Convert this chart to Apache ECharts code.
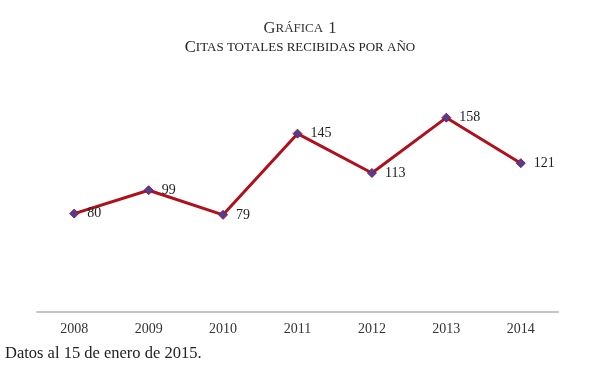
<!DOCTYPE html>
<html><head><meta charset="utf-8">
<script src="https://cdn.jsdelivr.net/npm/echarts@6/dist/echarts.min.js"></script>
<style>html,body{margin:0;padding:0;background:#fff}#c{width:600px;height:372px}</style>
</head><body><div id="c"></div>
<script>
const years = ['2008','2009','2010','2011','2012','2013','2014'];
const citas = [80, 99, 79, 145, 113, 158, 121];
const serif = '"Liberation Serif", "DejaVu Serif", serif';
const chart = echarts.init(document.getElementById('c'));
chart.setOption({
  animation: false,
  backgroundColor: '#fff',
  title: [{
    left: 'center', top: 15,
    text: '{b|G}{s|RÁFICA} {b|1}',
    textStyle: { fontWeight: 'normal', rich: {
      b: { fontFamily: serif, fontSize: 16.5, fontWeight: 'normal', color: '#333' },
      s: { fontFamily: serif, fontSize: 13, fontWeight: 'normal', color: '#333' }
    } }
  }, {
    left: 'center', top: 34,
    text: '{b|C}{s|ITAS TOTALES RECIBIDAS POR AÑO}',
    textStyle: { fontWeight: 'normal', rich: {
      b: { fontFamily: serif, fontSize: 16.5, fontWeight: 'normal', color: '#222' },
      s: { fontFamily: serif, fontSize: 13, fontWeight: 'normal', color: '#222' }
    } }
  }],
  grid: { left: 37, right: 42, top: 66, bottom: 60 },
  xAxis: {
    type: 'category', data: years, boundaryGap: true,
    axisLine: { lineStyle: { color: '#c4c4c4', width: 2 } },
    axisTick: { show: false },
    axisLabel: { fontFamily: serif, fontSize: 14, color: '#333', margin: 10 }
  },
  yAxis: {
    type: 'value', min: 0, max: 200,
    show: false, splitLine: { show: false }
  },
  series: [{
    type: 'line', data: citas,
    lineStyle: { color: '#b00f1c', width: 3 },
    symbol: 'diamond', symbolSize: 9,
    itemStyle: { color: '#4b3f99', borderColor: '#a0142a', borderWidth: 1 },
    label: { show: true, position: 'right', distance: 8, fontFamily: serif, fontSize: 14, color: '#222' }
  }],
  graphic: [{
    type: 'text', left: 5, top: 345,
    style: { text: 'Datos al 15 de enero de 2015.', font: '16.5px ' + serif, fill: '#222' }
  }]
});
</script></body></html>
